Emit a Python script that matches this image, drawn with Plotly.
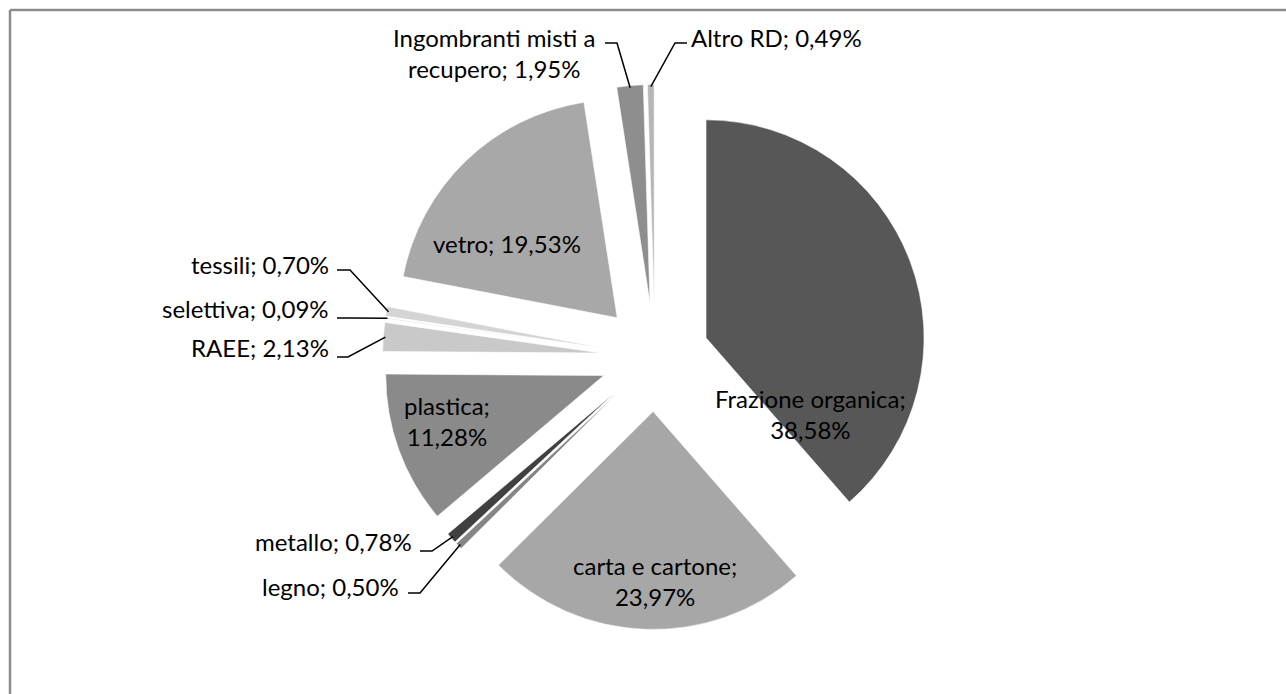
import math
import plotly.graph_objects as go

# ---------------- data ----------------
categories = ["Frazione organica", "carta e cartone", "legno", "metallo", "plastica",
              "RAEE", "selettiva", "tessili", "vetro",
              "Ingombranti misti a recupero", "Altro RD"]
values = [38.58, 23.97, 0.50, 0.78, 11.28, 2.13, 0.09, 0.70, 19.53, 1.95, 0.49]

# ---------------- styles ----------------
slice_colors = ["#575757", "#a7a7a7", "#858585", "#404040", "#8a8a8a",
                "#c9c9c9", "#e2e2e2", "#d4d4d4", "#a8a8a8", "#8e8e8e", "#b6b6b6"]

W, H = 1286, 694          # page size (px)
CX, CY = 655, 357         # pie centre (px)
R = 218                   # pie radius (px)
PULL = 0.25               # explosion of every slice
FONT = "Lato"
FSIZE = 24

# label placement (px) - text anchor and leader-line start
inside_labels = {
    "Frazione organica": (810, 414),
    "carta e cartone": (655, 581),
    "plastica": (447, 421),
    "vetro": (507, 244),
}
inside_breaks = {"Frazione organica": True, "carta e cartone": True, "plastica": True, "vetro": False}

outside_labels = {
    # name: (text x, text y, xanchor, line start x, line y, elbow dx)
    "Ingombranti misti a recupero": (494, 53, "center", 605, 43, 12),
    "Altro RD": (689, 38, "left", 687, 43, -12),
    "tessili": (331, 264, "right", 337, 270, 13),
    "selettiva": (331, 309, "right", 337, 318, 13),
    "RAEE": (331, 347, "right", 337, 357, 11),
    "metallo": (414, 541, "right", 420, 551, 12),
    "legno": (401, 586, "right", 408, 593, 12),
}


def fmt(v):
    return f"{v:.2f}".replace(".", ",") + "%"


def to_paper(x, y):
    return x / W, 1 - y / H


total = sum(values)
cum = 0.0
mid_frac = {}
for c, v in zip(categories, values):
    mid_frac[c] = (cum + v / 2) / total
    cum += v


def slice_point(cat, rad):
    a = 2 * math.pi * mid_frac[cat]
    return CX + rad * math.sin(a), CY - rad * math.cos(a)


box = 2 * R * (1 + PULL)
dom_x = [(CX - box / 2) / W, (CX + box / 2) / W]
dom_y = [1 - (CY + box / 2) / H, 1 - (CY - box / 2) / H]

fig = go.Figure(go.Pie(
    labels=categories,
    values=values,
    sort=False,
    direction="clockwise",
    rotation=0,
    pull=[PULL] * len(values),
    marker=dict(colors=slice_colors, line=dict(color="rgba(255,255,255,0.55)", width=1)),
    textinfo="none",
    hoverinfo="label+percent",
    domain=dict(x=dom_x, y=dom_y),
    showlegend=False,
))

annotations = []
shapes = []

for cat, (x, y) in inside_labels.items():
    v = values[categories.index(cat)]
    sep = ";<br>" if inside_breaks[cat] else "; "
    px, py = to_paper(x, y)
    annotations.append(dict(x=px, y=py, xref="paper", yref="paper", showarrow=False,
                            text=cat + sep + fmt(v), align="center",
                            xanchor="center", yanchor="middle",
                            font=dict(family=FONT, size=FSIZE, color="#000000")))

for cat, (tx, ty, xa, sx, sy, dx) in outside_labels.items():
    v = values[categories.index(cat)]
    if cat.startswith("Ingombranti"):
        text = "Ingombranti misti a<br>recupero; " + fmt(v)
    else:
        text = cat + "; " + fmt(v)
    px, py = to_paper(tx, ty)
    annotations.append(dict(x=px, y=py, xref="paper", yref="paper", showarrow=False,
                            text=text, align="center", xanchor=xa, yanchor="middle",
                            font=dict(family=FONT, size=FSIZE, color="#000000")))
    ex, ey = slice_point(cat, R * PULL + R * 0.99)
    pts = [to_paper(sx, sy), to_paper(sx + dx, sy), to_paper(ex, ey)]
    path = "M {} {} L {} {} L {} {}".format(pts[0][0], pts[0][1], pts[1][0], pts[1][1],
                                            pts[2][0], pts[2][1])
    shapes.append(dict(type="path", xref="paper", yref="paper", path=path,
                       line=dict(color="#000000", width=1.5)))

# chart-area border (top and left edges visible)
bx0, by0 = to_paper(10, 10)
shapes.append(dict(type="line", xref="paper", yref="paper", x0=bx0, y0=by0, x1=1.02, y1=by0,
                   line=dict(color="#8c8c8c", width=2.5)))
shapes.append(dict(type="line", xref="paper", yref="paper", x0=bx0, y0=by0, x1=bx0, y1=-0.02,
                   line=dict(color="#8c8c8c", width=2.5)))

fig.update_layout(
    width=W, height=H,
    margin=dict(l=0, r=0, t=0, b=0),
    paper_bgcolor="#ffffff",
    plot_bgcolor="#ffffff",
    annotations=annotations,
    shapes=shapes,
    font=dict(family=FONT),
)

fig.write_html("out.html", config={"displayModeBar": False},
               post_script="document.body.style.margin='0';document.body.style.overflow='hidden';")
